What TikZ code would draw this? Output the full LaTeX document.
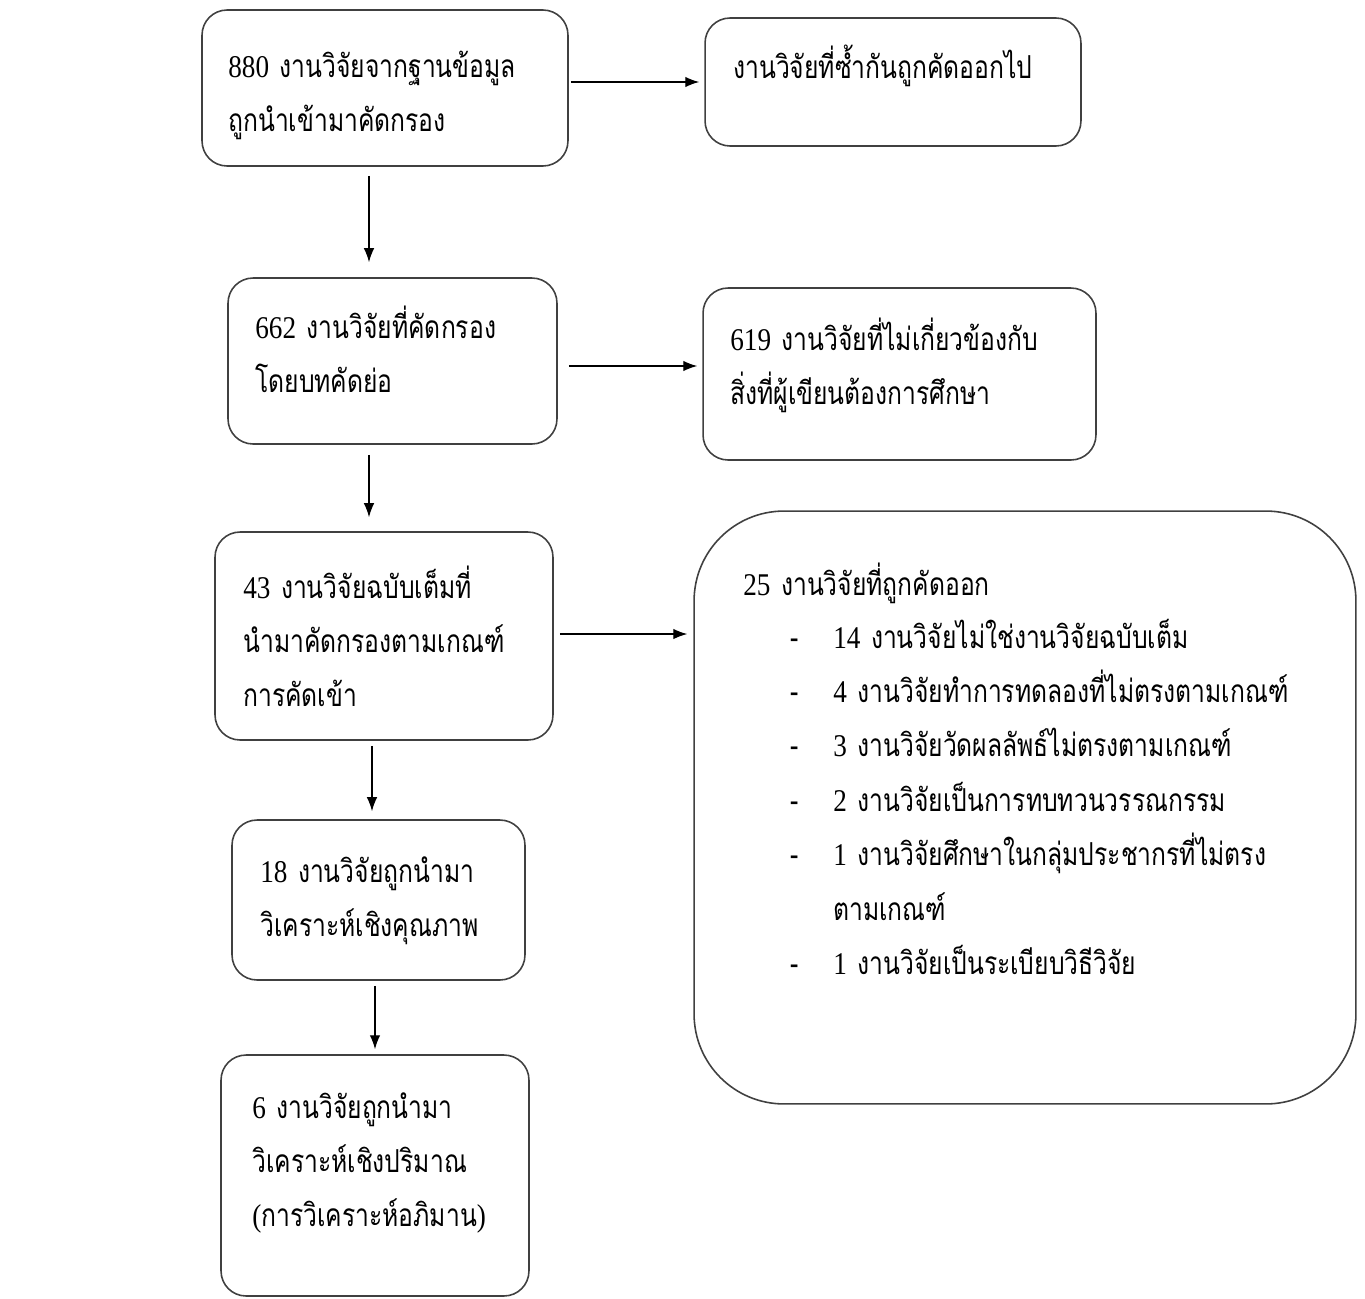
\documentclass[tikz,border=0pt]{standalone}
\usepackage{fontspec}
\newfontfamily\thaifont[Script=Thai,FakeStretch=0.78]{Loma}
\newfontfamily\numfont[FakeStretch=0.86]{Liberation Serif}
\usetikzlibrary{arrows.meta}

\newcommand{\nm}[1]{{\numfont #1}}
\newcommand{\itm}{\makebox[0.86cm][l]{-}}

\begin{document}
\begin{tikzpicture}[x=0.02cm,y=-0.02cm,
            box/.style={draw=black!75,line width=0.9pt,rounded corners=0.5cm,inner sep=0pt},
            bigbox/.style={box,rounded corners=1.8cm},
            txt/.style={anchor=base west,inner sep=0pt,align=left,text width=12cm,
                        font=\thaifont\fontsize{18}{31}\selectfont},
            arrow/.style={draw,line width=0.7pt,-{Latex[length=0.28cm,width=0.21cm]}}
          ]
          \useasboundingbox (0,0) rectangle (1365,1298);

          %boxes, left column
          \node[box,minimum width=7.32cm,minimum height=3.12cm] (b1) at (385,88) {};
          \node[box,minimum width=6.58cm,minimum height=3.32cm] (b3) at (392.5,361) {};
          \node[box,minimum width=6.76cm,minimum height=4.16cm] (b5) at (384,636) {};
          \node[box,minimum width=5.86cm,minimum height=3.2cm] (b7) at (378.5,900) {};
          \node[box,minimum width=6.16cm,minimum height=4.82cm] (b8) at (375,1175.5) {};

          %boxes, right column
          \node[box,minimum width=7.52cm,minimum height=2.56cm] (b2) at (893,82) {};
          \node[box,minimum width=7.86cm,minimum height=3.44cm] (b4) at (899.5,374) {};
          \node[bigbox,minimum width=13.24cm,minimum height=11.86cm] (b6) at (1025,807.5) {};

          %texts
          \node[txt] (t1) at (228,77) {\nm{880} งานวิจัยจากฐานข้อมูล\\ถูกนำเข้ามาคัดกรอง};
          \node[txt] (t2) at (733,78) {งานวิจัยที่ซ้ำกันถูกคัดออกไป};
          \node[txt] (t3) at (255,338) {\nm{662} งานวิจัยที่คัดกรอง\\โดยบทคัดย่อ};
          \node[txt] (t4) at (730,350) {\nm{619} งานวิจัยที่ไม่เกี่ยวข้องกับ\\สิ่งที่ผู้เขียนต้องการศึกษา};
          \node[txt] (t5) at (243,598) {\nm{43} งานวิจัยฉบับเต็มที่\\นำมาคัดกรองตามเกณฑ์\\การคัดเข้า};
          \node[txt] (t6) at (743,595) {\nm{25} งานวิจัยที่ถูกคัดออก};
          \node[txt] (t6l) at (790,648) {\itm\nm{14} งานวิจัยไม่ใช่งานวิจัยฉบับเต็ม\\
            \itm\nm{4} งานวิจัยทำการทดลองที่ไม่ตรงตามเกณฑ์\\
            \itm\nm{3} งานวิจัยวัดผลลัพธ์ไม่ตรงตามเกณฑ์\\
            \itm\nm{2} งานวิจัยเป็นการทบทวนวรรณกรรม\\
            \itm\nm{1} งานวิจัยศึกษาในกลุ่มประชากรที่ไม่ตรง\\
            \hspace*{0.86cm}ตามเกณฑ์\\
            \itm\nm{1} งานวิจัยเป็นระเบียบวิธีวิจัย};
          \node[txt] (t7) at (260,882) {\nm{18} งานวิจัยถูกนำมา\\วิเคราะห์เชิงคุณภาพ};
          \node[txt] (t8) at (252,1118) {\nm{6} งานวิจัยถูกนำมา\\วิเคราะห์เชิงปริมาณ\\\nm{(}การวิเคราะห์อภิมาน\nm{)}};

          %arrows
          \draw[arrow,shorten <=0.04cm,shorten >=0.1cm] (b1.east |- b2.west) -- (b2.west);
          \draw[arrow,shorten <=0.18cm,shorten >=0.3cm] ([xshift=-0.32cm]b1.south) -- ([xshift=-0.32cm]b1.south |- b3.north);
          \draw[arrow,shorten <=0.22cm,shorten >=0.1cm] ([yshift=-0.1cm]b3.east) -- ([yshift=-0.1cm]b3.east -| b4.west);
          \draw[arrow,shorten <=0.2cm,shorten >=0.28cm] ([xshift=-0.47cm]b3.south) -- ([xshift=-0.47cm]b3.south |- b5.north);
          \draw[arrow,shorten <=0.12cm,shorten >=0.12cm] ([yshift=0.04cm]b5.east) -- ([yshift=0.04cm]b5.east -| b6.west);
          \draw[arrow,shorten <=0.1cm,shorten >=0.16cm] ([xshift=-0.24cm]b5.south) -- ([xshift=-0.24cm]b5.south |- b7.north);
          \draw[arrow,shorten <=0.1cm,shorten >=0.1cm] ([xshift=-0.07cm]b7.south) -- ([xshift=-0.07cm]b7.south |- b8.north);
      \end{tikzpicture}
\end{document}
